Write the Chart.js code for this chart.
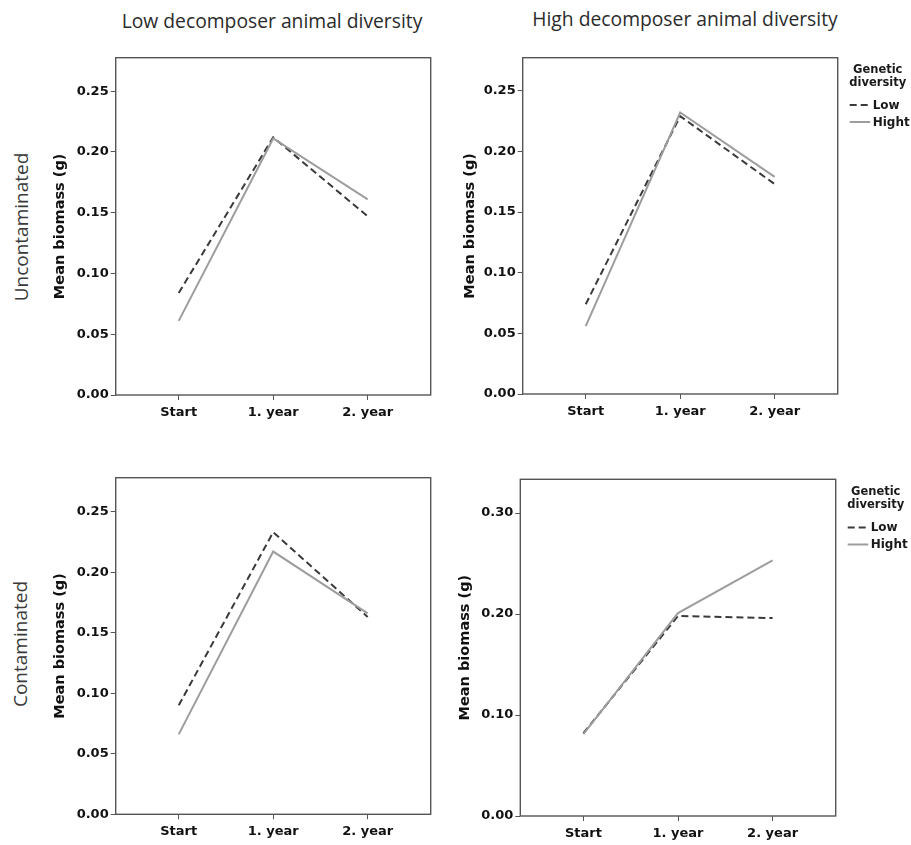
<!DOCTYPE html>
<html>
<head>
<meta charset="utf-8">
<script src="https://cdn.jsdelivr.net/npm/chart.js@4.4.1/dist/chart.umd.min.js"></script>
<style>
  body { margin: 0; background: #fff; width: 911px; height: 845px; position: relative; overflow: hidden; font-family: "Open Sans", sans-serif; }
  canvas { position: absolute; }
  .coltitle, .rowlabel { position: absolute; white-space: nowrap; line-height: 1; color: #2b2b2b; }
  .coltitle { font-size: 19.3px; transform: translate(-50%, -50%); }
  .rowlabel { font-size: 19px; color: #3a3a3a; transform: translate(-50%, -50%) rotate(-90deg); }
</style>
</head>
<body>
<div class="coltitle" style="left:272px; top:21px">Low decomposer animal diversity</div>
<div class="coltitle" style="left:685px; top:19px">High decomposer animal diversity</div>
<div class="rowlabel" style="left:21px; top:227px">Uncontaminated</div>
<div class="rowlabel" style="left:20px; top:644px">Contaminated</div>

<canvas id="p-unc-low" width="455" height="390" style="left:0;top:40px"></canvas>
<canvas id="p-unc-high" width="456" height="390" style="left:455px;top:40px"></canvas>
<canvas id="p-con-low" width="455" height="405" style="left:0;top:440px"></canvas>
<canvas id="p-con-high" width="456" height="405" style="left:455px;top:440px"></canvas>

<script>
// 時期(横軸のカテゴリ)と遺伝的多様性の系列名
const PHASES = ["Start", "1. year", "2. year"];
const SERIES_NAMES = ["Low", "Hight"];
const LEGEND_TITLE = ["Genetic", "diversity"];
const Y_TITLE = "Mean biomass (g)";

// 平均バイオマス(g): 汚染なし / 分解者多様性 低
const UNC_LOWDEC_LOWGEN = [0.084, 0.212, 0.147];
const UNC_LOWDEC_HIGHGEN = [0.061, 0.211, 0.161];
// 汚染なし / 分解者多様性 高
const UNC_HIGHDEC_LOWGEN = [0.074, 0.229, 0.173];
const UNC_HIGHDEC_HIGHGEN = [0.056, 0.232, 0.179];
// 汚染あり / 分解者多様性 低
const CON_LOWDEC_LOWGEN = [0.090, 0.233, 0.163];
const CON_LOWDEC_HIGHGEN = [0.066, 0.217, 0.166];
// 汚染あり / 分解者多様性 高
const CON_HIGHDEC_LOWGEN = [0.082, 0.198, 0.196];
const CON_HIGHDEC_HIGHGEN = [0.081, 0.201, 0.253];

// 縦軸目盛
const TICKS_005 = [0, 0.05, 0.1, 0.15, 0.2, 0.25];
const TICKS_010 = [0, 0.1, 0.2, 0.3];

const DARK = "#3a3a3a";
const LIGHT = "#9d9d9d";
const FRAME = "#555";
const TICK_FONT = { family: "DejaVu Sans", weight: "bold", size: 13 };

// 描画領域の四辺を囲む枠線
const frameBox = {
  id: "frameBox",
  afterDraw(chart) {
    const a = chart.chartArea;
    const ctx = chart.ctx;
    ctx.save();
    ctx.strokeStyle = FRAME;
    ctx.lineWidth = 1.4;
    ctx.strokeRect(a.left, a.top, a.right - a.left, a.bottom - a.top);
    ctx.restore();
  },
};

// 右側の凡例(タイトル2行+線見本)
const geneticLegend = {
  id: "geneticLegend",
  afterDraw(chart, args, opts) {
    if (!opts || opts.x == null) return;
    const ctx = chart.ctx;
    ctx.save();
    ctx.fillStyle = "#1a1a1a";
    ctx.textBaseline = "middle";
    ctx.font = "bold 11.5px 'DejaVu Sans'";
    ctx.textAlign = "center";
    LEGEND_TITLE.forEach((s, i) => ctx.fillText(s, opts.x, opts.y + i * 13));
    ctx.textAlign = "left";
    ctx.font = "bold 12px 'DejaVu Sans'";
    chart.data.datasets.forEach((ds, i) => {
      const y = opts.y + 35 + i * 17;
      ctx.strokeStyle = ds.borderColor;
      ctx.lineWidth = ds.borderWidth;
      ctx.setLineDash(ds.borderDash || []);
      ctx.beginPath();
      ctx.moveTo(opts.x - 28, y);
      ctx.lineTo(opts.x - 7.5, y);
      ctx.stroke();
      ctx.setLineDash([]);
      ctx.fillText(ds.label, opts.x - 5, y + 0.5);
    });
    ctx.restore();
  },
};

const toPoints = (vals) => vals.map((v, i) => ({ x: i, y: v }));

function makePanel(id, lowVals, highVals, p) {
  const canvas = document.getElementById(id);
  const W = canvas.width;
  const H = canvas.height;
  return new Chart(canvas, {
    type: "line",
    data: {
      datasets: [
        { label: SERIES_NAMES[0], data: toPoints(lowVals), borderColor: DARK, borderWidth: 2, borderDash: [7, 4], pointRadius: 0, fill: false, order: 1 },
        { label: SERIES_NAMES[1], data: toPoints(highVals), borderColor: LIGHT, borderWidth: 2, pointRadius: 0, fill: false, order: 0 },
      ],
    },
    options: {
      responsive: false,
      animation: false,
      events: [],
      layout: { padding: { left: 0, top: p.t, right: W - p.r, bottom: 0 } },
      plugins: {
        legend: { display: false },
        tooltip: { enabled: false },
        geneticLegend: p.legend || {},
      },
      scales: {
        x: {
          type: "linear",
          min: -0.667,
          max: 2.667,
          afterBuildTicks: (s) => { s.ticks = PHASES.map((_, i) => ({ value: i })); },
          afterFit: (s) => { s.height = H - p.b; },
          grid: { display: true, drawOnChartArea: false, drawTicks: true, tickLength: 5, color: FRAME },
          border: { display: false },
          ticks: { font: TICK_FONT, color: "#111", padding: 5, maxRotation: 0, callback: (v) => PHASES[v] },
        },
        y: {
          min: 0,
          max: p.yMax,
          afterBuildTicks: (s) => { s.ticks = p.ticks.map((v) => ({ value: v })); },
          afterFit: (s) => { s.width = p.l; },
          grid: { display: true, drawOnChartArea: false, drawTicks: true, tickLength: 5, color: FRAME },
          border: { display: false },
          ticks: { font: TICK_FONT, color: "#111", padding: 2, callback: (v) => v.toFixed(2) },
          title: {
            display: true,
            text: Y_TITLE,
            color: "#111",
            font: { family: "DejaVu Sans", weight: "bold", size: 14.5 },
            padding: { top: p.titleX - 8.7, bottom: 0 },
          },
        },
      },
    },
    plugins: [frameBox, geneticLegend],
  });
}

makePanel("p-unc-low", UNC_LOWDEC_LOWGEN, UNC_LOWDEC_HIGHGEN, { l: 115.7, t: 17.7, r: 430.7, b: 355, yMax: 0.2775, ticks: TICKS_005, titleX: 60 });
makePanel("p-unc-high", UNC_HIGHDEC_LOWGEN, UNC_HIGHDEC_HIGHGEN, { l: 67.7, t: 17.7, r: 382.7, b: 354, yMax: 0.2772, ticks: TICKS_005, titleX: 15, legend: { x: 422.7, y: 30 } });
makePanel("p-con-low", CON_LOWDEC_LOWGEN, CON_LOWDEC_HIGHGEN, { l: 115.7, t: 37.7, r: 430.7, b: 374.3, yMax: 0.278, ticks: TICKS_005, titleX: 60 });
makePanel("p-con-high", CON_HIGHDEC_LOWGEN, CON_HIGHDEC_HIGHGEN, { l: 65.3, t: 39.3, r: 380.7, b: 376, yMax: 0.3334, ticks: TICKS_010, titleX: 10, legend: { x: 420.7, y: 52.5 } });
</script>
</body>
</html>
